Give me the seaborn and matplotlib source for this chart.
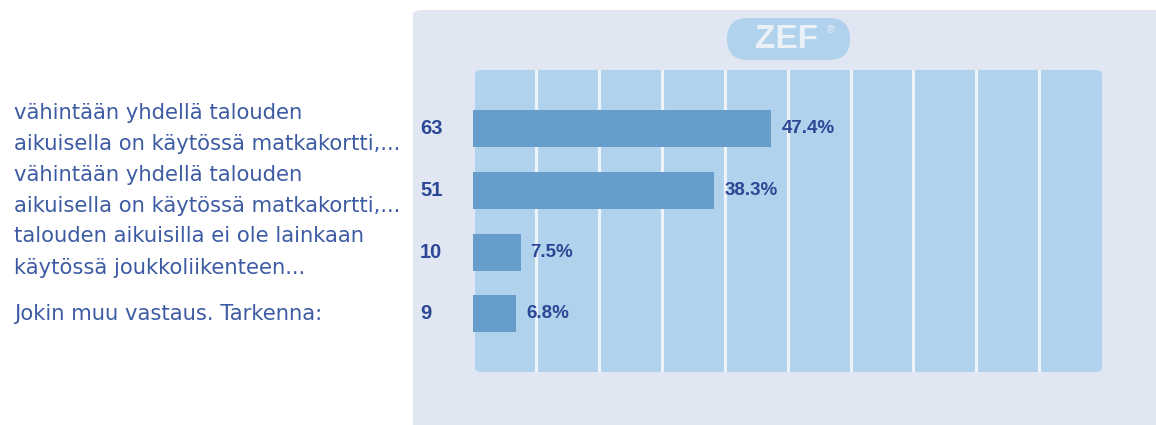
import matplotlib
matplotlib.use("Agg")
import matplotlib.pyplot as plt
import matplotlib.transforms as mtransforms
from matplotlib.patches import FancyBboxPatch
import seaborn as sns
import pandas as pd

# chart data
answers = [
    "vähintään yhdellä talouden\naikuisella on käytössä matkakortti,...",
    "vähintään yhdellä talouden\naikuisella on käytössä matkakortti,...",
    "talouden aikuisilla ei ole lainkaan\nkäytössä joukkoliikenteen...",
    "Jokin muu vastaus. Tarkenna:",
]
counts = [63, 51, 10, 9]
percents = [47.4, 38.3, 7.5, 6.8]
grid_ticks = [10, 20, 30, 40, 50, 60, 70, 80, 90]

# colours
panel_bg = "#e1e7f2"
plot_bg = "#b0d2ec"
bar_color = "#669dca"
label_color = "#3d5ba3"
value_color = "#2c4796"

sns.set_theme(style="white")
plt.rcParams['font.family'] = ['Liberation Sans', 'DejaVu Sans']

W, H = 1156, 425
fig = plt.figure(figsize=(W / 100, H / 100), dpi=100)
fig.patch.set_facecolor("white")

def fx(px):
    return px / W

def fy(py):
    return 1 - py / H

# outer panel
fig.patches.append(FancyBboxPatch((fx(413), fy(440)), fx(760), fy(10) - fy(440),
                                  boxstyle="round,pad=0,rounding_size=0.01",
                                  transform=fig.transFigure, facecolor=panel_bg,
                                  edgecolor="none", zorder=-2))
# inner plot area
fig.patches.append(FancyBboxPatch((fx(475), fy(372)), fx(1102) - fx(475), fy(70) - fy(372),
                                  boxstyle="round,pad=0,rounding_size=0.008",
                                  transform=fig.transFigure, facecolor=plot_bg,
                                  edgecolor="none", zorder=-1))
# ZEF logo pill
fig.patches.append(FancyBboxPatch((fx(727), fy(60)), fx(850) - fx(727), fy(18) - fy(60),
                                  boxstyle="round,pad=0,rounding_size=0.018",
                                  transform=fig.transFigure, facecolor=plot_bg,
                                  edgecolor="none", zorder=-1,
                                  mutation_aspect=W / H))
fig.text(fx(786), fy(40), "ZEF", color="#e9f0f8", fontsize=24, fontweight="bold",
         ha="center", va="center")
fig.text(fx(831), fy(30), "®", color="#e9f0f8", fontsize=8, ha="center", va="center")

ax = fig.add_axes([fx(473.5), fy(372), fx(1102) - fx(473.5), fy(70) - fy(372)])
ax.set_facecolor("none")
ax.set_zorder(2)

df = pd.DataFrame({"row": [str(i) for i in range(len(answers))],
                   "percent": percents, "count": counts})
sns.barplot(data=df, x="percent", y="row", orient="h", color=bar_color,
            saturation=1, width=0.6, linewidth=0, ax=ax, zorder=3)

for t in grid_ticks:
    ax.axvline(t, color="#eef3fa", lw=2.3, zorder=2)

ax.set_xlim(0, 100)
ax.set_ylim(3.94, -0.95)
ax.set_xticks([])
ax.set_yticks([])
ax.set_xlabel("")
ax.set_ylabel("")
for s in ax.spines.values():
    s.set_visible(False)

trans = mtransforms.blended_transform_factory(fig.transFigure, ax.transData)
for i, (lab, c, p) in enumerate(zip(answers, counts, percents)):
    ax.text(fx(14), i, lab, transform=trans, ha="left", va="center",
            fontsize=15.2, color=label_color, linespacing=1.72,
            family=["DejaVu Sans"], clip_on=False)
    ax.text(fx(420), i, str(c), transform=trans, ha="left", va="center",
            fontsize=14.5, fontweight="bold", color=value_color, clip_on=False)
    ax.text(p + 1.6, i, f"{p:.1f}%", ha="left", va="center",
            fontsize=13.5, fontweight="bold", color=value_color, zorder=4)

fig.savefig("out.png", dpi=100)
